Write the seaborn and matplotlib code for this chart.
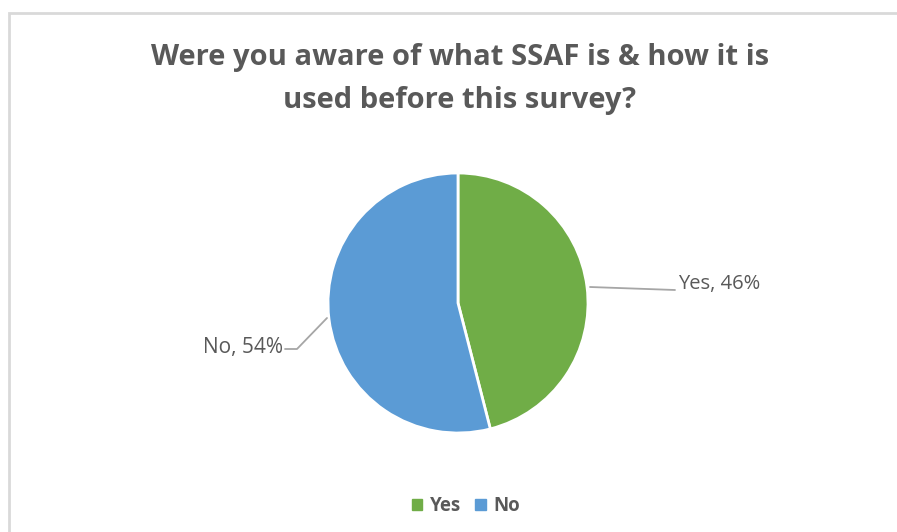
import matplotlib
matplotlib.use("Agg")
import matplotlib.pyplot as plt
import seaborn as sns
from matplotlib.patches import Rectangle

# survey answers
answers = ["Yes", "No"]
shares = [46, 54]
colors = ["#70AD47", "#5B9BD5"]
title = "Were you aware of what SSAF is & how it is\nused before this survey?"

sns.set_theme(style="white")
plt.rcParams["font.family"] = ["Open Sans", "DejaVu Sans"]

W, H = 897, 532
fig = plt.figure(figsize=(W / 100, H / 100), dpi=100)
ax = fig.add_axes([0, 0, 1, 1])

# chart frame
ax.add_patch(Rectangle((8.5, -10), W + 10, H - 13 + 10, fill=False,
                       edgecolor="#D9D9D9", linewidth=2))

cx, cy, r = 458, H - 303, 130
wedges, _ = ax.pie(shares, colors=colors, startangle=90, counterclock=False,
                   center=(cx, cy), radius=r, frame=True,
                   wedgeprops=dict(edgecolor="white", linewidth=2))
ax.set_xlim(0, W)
ax.set_ylim(0, H)
ax.set_aspect("equal")
ax.axis("off")

# data labels with leader lines
lab_col = "#595959"
ax.plot([590, 675], [H - 287, H - 290], color="#A6A6A6", lw=1.3)
ax.text(678, H - 284, f"{answers[0]}, {shares[0]}%", ha="left", va="center",
        fontsize=14.5, color=lab_col)
ax.plot([327, 297, 285], [H - 318, H - 349, H - 349], color="#A6A6A6", lw=1.3)
ax.text(283, H - 347, f"{answers[1]}, {shares[1]}%", ha="right", va="center",
        fontsize=15, color=lab_col)

ax.text(460, H - 79, title, ha="center", va="center", fontsize=21,
        fontweight="bold", color=lab_col, linespacing=1.65)

# legend
handles = [Rectangle((0, 0), 1, 1, color=c) for c in colors]
fig.legend(handles, answers, loc="center", bbox_to_anchor=(466 / W, 1 - 506 / H),
           ncol=2, frameon=False, handlelength=0.55, handleheight=0.55,
           handletextpad=0.4, columnspacing=0.75,
           prop=dict(size=13.5, weight="bold"), labelcolor=lab_col)

fig.savefig("out.png", dpi=100)
